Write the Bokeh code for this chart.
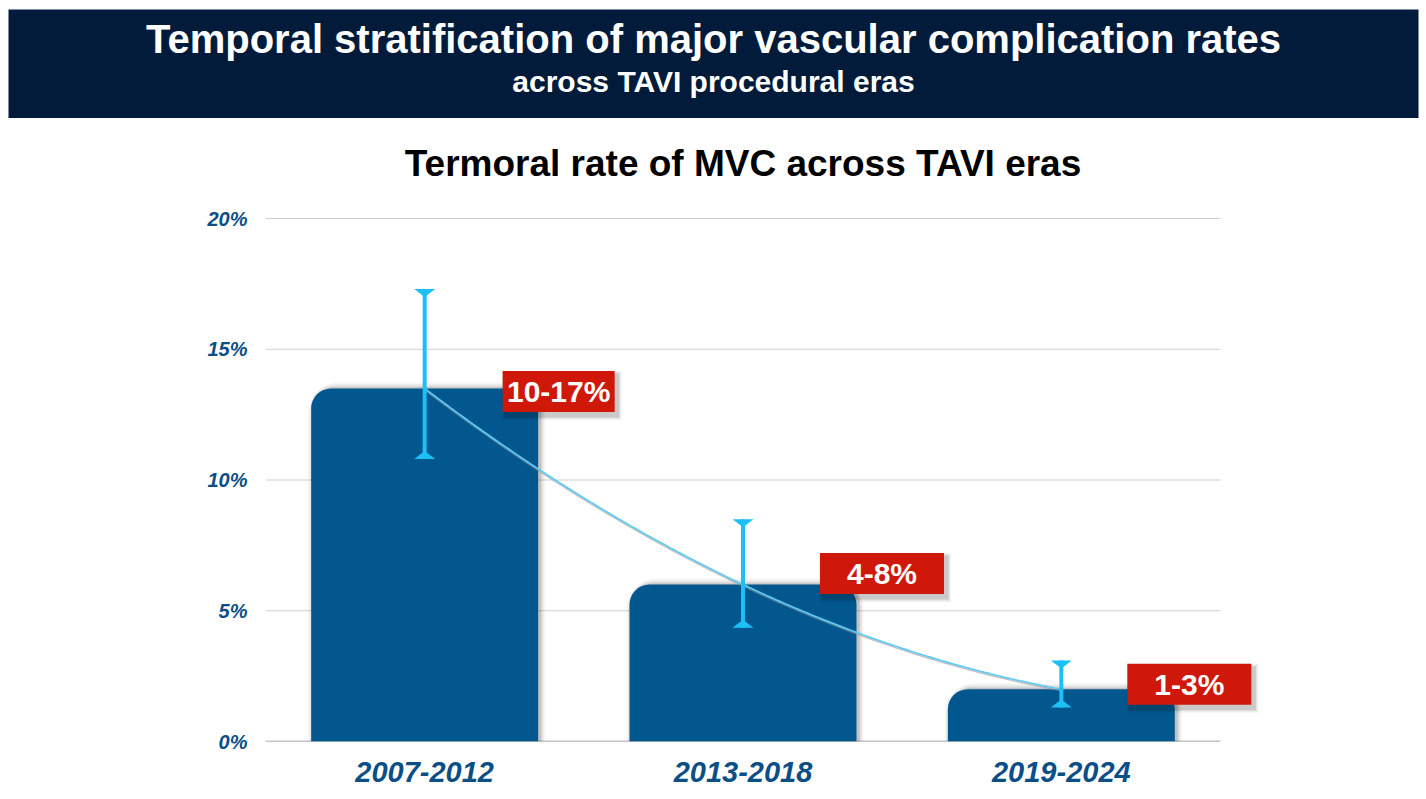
import numpy as np
from bokeh.plotting import figure
from bokeh.models import Range1d, FixedTicker, PrintfTickFormatter
from bokeh.embed import file_html
from bokeh.resources import INLINE
from bokeh.core.properties import value

# ---------------- data ----------------
MAIN_TITLE = "Temporal stratification of major vascular complication rates"
SUB_TITLE = "across TAVI procedural eras"
CHART_TITLE = "Termoral rate of MVC across TAVI eras"
eras = ["2007-2012", "2013-2018", "2019-2024"]
rates = [13.5, 6.0, 2.0]
rate_low = [10.8, 4.35, 1.3]
rate_high = [17.3, 8.5, 3.1]
range_labels = ["10-17%", "4-8%", "1-3%"]
y_ticks = [0, 5, 10, 15, 20]

# ---------------- styles / layout ----------------
FONT = "Liberation Sans"
NAVY = "#021B3A"
BAR = "#02578F"
CYAN = "#1CC0F4"
TREND = "#5CCBF5"
RED = "#D0180A"
AXBLUE = "#0C4E86"

PAGE_W = 1426
BANNER_H = 118
BANNER_PAD = 8
BANNER_TOP = 9
CHART_H = 681
BL, BT, BB = 265, 20, 58
AXIS_TOP = 100      # distance from chart top to the 20% line
AX_W = 955          # width of the axis / grid area
AX_H = CHART_H - AXIS_TOP - BB
EXTRA_R = 40        # room on the right so the last label box is not clipped
BR = PAGE_W - BL - AX_W - EXTRA_R
YMAX = 20
px_x = AX_W / len(eras)
px_y = AX_H / YMAX
TITLE_ABOVE = 55    # px from the 20% line up to the chart title centre
BAR_W = 0.713
LABEL_BOX_W = [112, 124, 124]
LABEL_DX = [78, 77, 66]
LABEL_DY = [-3, 11, 5]
LABEL_BOX_H = 41

centers = np.arange(len(eras)) + 0.5
r = np.array(rates)
lo = np.array(rate_low)
hi = np.array(rate_high)

# ---------------- banner ----------------
BW = PAGE_W - 2 * BANNER_PAD
BH = BANNER_H - BANNER_TOP
banner = figure(width=PAGE_W, height=BANNER_H, x_range=Range1d(0, BW), y_range=Range1d(BH, 0),
                output_backend="svg", toolbar_location=None,
                min_border_left=BANNER_PAD, min_border_right=BANNER_PAD,
                min_border_top=BANNER_TOP, min_border_bottom=0,
                x_axis_location=None, y_axis_location=None,
                background_fill_color=NAVY, border_fill_color="white", outline_line_color=None)
banner.grid.visible = False
banner.text(x=[BW / 2], y=[29], text=[MAIN_TITLE], text_font=value(FONT), text_font_style="bold",
            text_font_size="40px", text_color="white", text_align="center", text_baseline="alphabetic")
banner.text(x=[BW / 2], y=[72], text=[SUB_TITLE], text_font=value(FONT), text_font_style="bold",
            text_font_size="30px", text_color="white", text_align="center", text_baseline="alphabetic")

# ---------------- chart ----------------
y_top = YMAX + (AXIS_TOP - BT) / px_y
p = figure(width=PAGE_W, height=CHART_H,
           x_range=Range1d(0, len(eras) + EXTRA_R / px_x), y_range=Range1d(0, y_top),
           output_backend="svg", toolbar_location=None,
           min_border_left=BL, min_border_right=BR, min_border_top=BT, min_border_bottom=BB,
           outline_line_color=None, background_fill_color="white", border_fill_color="white")

p.text(x=[len(eras) / 2], y=[YMAX + TITLE_ABOVE / px_y], text=[CHART_TITLE], text_font=value(FONT),
       text_font_style="bold", text_font_size="37px", text_color="black",
       text_align="center", text_baseline="middle")

p.grid.visible = False
# horizontal grid lines and base line limited to the category area
p.segment(x0=0, x1=len(eras), y0=y_ticks[1:], y1=y_ticks[1:], line_color="#D0D0D0", line_width=1)
p.segment(x0=0, x1=len(eras), y0=y_ticks[0], y1=y_ticks[0], line_color="#8A8A8A", line_width=1.5)

p.yaxis.ticker = FixedTicker(ticks=y_ticks)
p.yaxis.formatter = PrintfTickFormatter(format="%d%%")
p.yaxis.axis_line_color = None
p.yaxis.major_tick_line_color = None
p.yaxis.minor_tick_line_color = None
p.yaxis.major_label_standoff = 12
p.yaxis.major_label_text_font = FONT
p.yaxis.major_label_text_font_style = "bold italic"
p.yaxis.major_label_text_font_size = "20px"
p.yaxis.major_label_text_color = AXBLUE

p.xaxis.ticker = FixedTicker(ticks=list(centers))
p.xaxis.major_label_overrides = {float(c): e for c, e in zip(centers, eras)}
p.xaxis.axis_line_color = None
p.xaxis.major_tick_line_color = None
p.xaxis.minor_tick_line_color = None
p.xaxis.major_label_standoff = 14
p.xaxis.major_label_text_font = FONT
p.xaxis.major_label_text_font_style = "bold italic"
p.xaxis.major_label_text_font_size = "29px"
p.xaxis.major_label_text_color = AXBLUE

# bar shadows
for k, a in [(10, 0.04), (7, 0.05), (4, 0.07), (2, 0.09)]:
    p.vbar(x=centers + 2 / px_x, top=r + (k * 0.6) / px_y, bottom=0, width=BAR_W + k / px_x,
           fill_color="black", fill_alpha=a, line_color=None, border_radius=(20 + k, 20 + k, 0, 0))
# bars
p.vbar(x=centers, top=r, bottom=0, width=BAR_W, fill_color=BAR, line_color=None,
       border_radius=(20, 20, 0, 0))

# trend curve (quadratic through the three bar tops)
coef = np.polyfit(centers, r, 2)
xs = np.linspace(centers[0], centers[-1], 200)
ys = np.polyval(coef, xs)
p.line(xs, ys - 1.5 / px_y, line_color="#9A9A9A", line_alpha=0.6, line_width=1.5)
p.line(xs, ys, line_color=TREND, line_width=1.7)

# error bars
p.segment(x0=centers, y0=lo, x1=centers, y1=hi, line_color=CYAN, line_width=4)
hw = 10.5 / px_x
th = 8 / px_y
p.patches(xs=[[c - hw, c + hw, c] for c in centers], ys=[[h, h, h - th] for h in hi],
          fill_color=CYAN, line_color=None)
p.patches(xs=[[c - hw, c + hw, c] for c in centers], ys=[[l, l, l + th] for l in lo],
          fill_color=CYAN, line_color=None)

# range labels
bw = np.array(LABEL_BOX_W)
dx = np.array(LABEL_DX)
lx = centers + (dx + bw / 2) / px_x
ly = r + np.array(LABEL_DY) / px_y
for k, a in [(8, 0.05), (5, 0.07), (3, 0.1)]:
    p.rect(x=lx + 3 / px_x, y=ly - 4 / px_y, width=bw + k, height=LABEL_BOX_H + k,
           width_units="screen", height_units="screen", fill_color="black", fill_alpha=a, line_color=None)
p.rect(x=lx, y=ly, width=bw, height=LABEL_BOX_H, width_units="screen", height_units="screen",
       fill_color=RED, line_color=None)
p.text(x=lx, y=ly, text=range_labels, text_font=value(FONT), text_font_style="bold",
       text_font_size="30px", text_color="white", text_align="center", text_baseline="middle")

open("out.html", "w").write(file_html([banner, p], INLINE))
